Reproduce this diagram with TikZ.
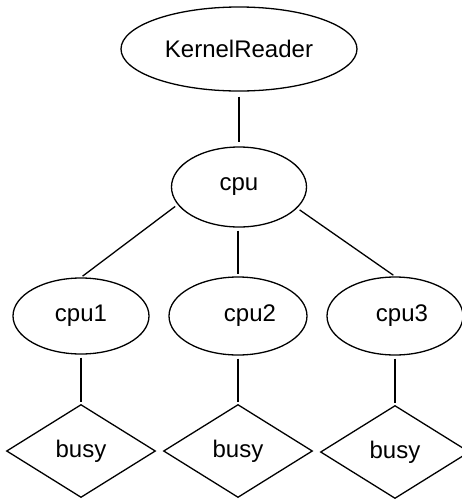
\documentclass[tikz,border=0pt]{standalone}
\usepackage{fontspec}
\setmainfont{Liberation Sans}
\usetikzlibrary{shapes.geometric}
\tikzset{
every node/.style={font=\fontsize{24}{28}\selectfont, line width=1.3pt},
proc/.style={draw, ellipse, inner sep=0pt},
test/.style={draw, diamond, inner sep=0pt, minimum width=149pt, minimum height=93pt},
link/.style={line width=1.3pt, shorten <=3pt, shorten >=2pt},
}

\begin{document}
\begin{tikzpicture}[x=1pt, y=-1pt]
    \useasboundingbox (0,0) rectangle (462,499);

    \node[proc, minimum width=236pt, minimum height=84pt] (kr) at (239,49) {KernelReader};
    \node[proc, minimum width=135pt, minimum height=80pt] (cpu) at (239,187) {cpu};
    \node[proc, minimum width=136pt, minimum height=76pt] (cpu1) at (81,316) {cpu1};
    \node[proc, minimum width=138pt, minimum height=78pt,
          label={[xshift=12pt]center:cpu2}] (cpu2) at (238,316) {};
    \node[proc, minimum width=136pt, minimum height=78pt,
          label={[xshift=7pt]center:cpu3}] (cpu3) at (395,316) {};
    \node[test] (b1) at (81,451) {busy};
    \node[test] (b2) at (238,451) {busy};
    \node[test] (b3) at (395,452) {busy};

    \draw
    (kr) edge[link, shorten <=5pt, shorten >=4pt] (cpu)
    (cpu.196) edge[link] (cpu1.north)
    (cpu.south -| cpu2.north) edge[link] (cpu2.north)
    (cpu.340) edge[link] (cpu3.north)
    (cpu1) edge[link] (b1)
    (cpu2) edge[link] (b2)
    (cpu3) edge[link] (b3)
    ;
\end{tikzpicture}
\end{document}
